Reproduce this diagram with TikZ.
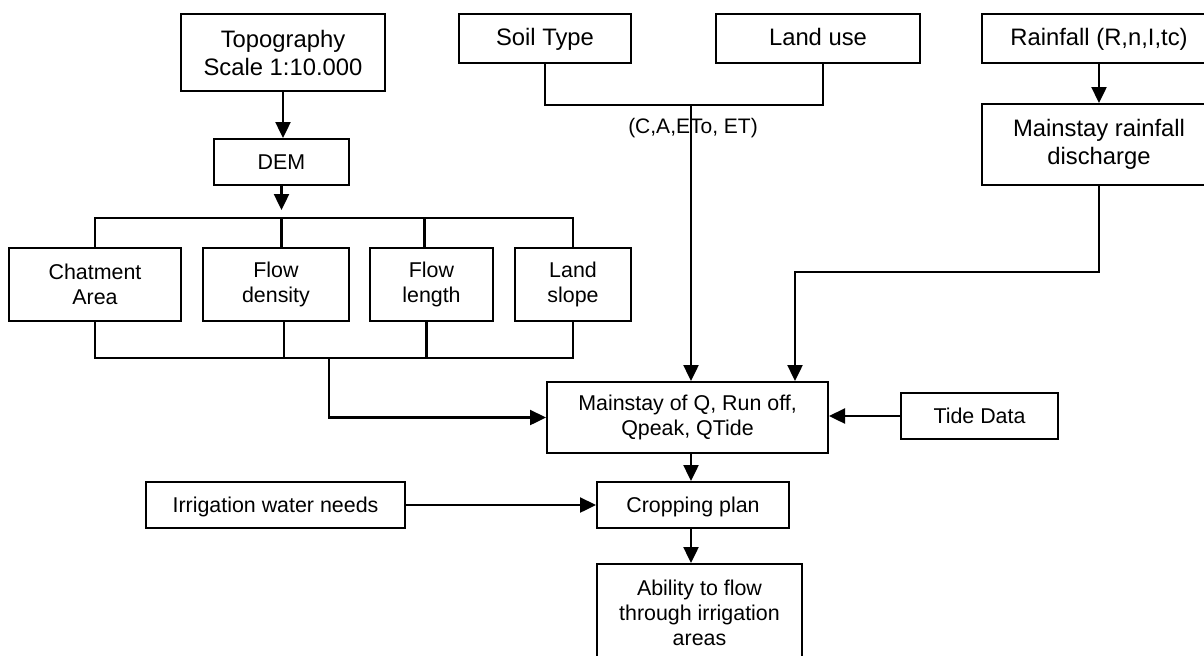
\documentclass[tikz,border=0pt]{standalone}
\usepackage{fontspec}
\setmainfont{Liberation Sans}
\usetikzlibrary{arrows.meta, calc}

\begin{document}
\begin{tikzpicture}[x=0.5pt, y=-0.5pt, line width=1.2pt, >={Triangle[width=7.5pt,length=8pt]},
    box/.style={draw, line width=1pt, align=center, inner sep=0pt, font=\fontsize{10.7}{12.5}\selectfont},
    bigbox/.style={box, font=\fontsize{11.9}{14}\selectfont},
    oneline/.style={text height=1.8ex, text depth=0.45ex}]
    \useasboundingbox (0,0) rectangle (1204,655);
    % data at the top
    \node[bigbox, minimum width=102pt, minimum height=38.5pt] (topo) at (283,52.5) {Topography\\Scale 1:10.000};
    \node[bigbox, oneline, minimum width=86pt, minimum height=24.5pt] (soil) at (545,38.5) {Soil Type};
    \node[bigbox, oneline, minimum width=102pt, minimum height=24.5pt] (landuse) at (818,38.5) {Land use};
    \node[bigbox, oneline, minimum width=117pt, minimum height=24.5pt] (rain) at (1099,38.5) {Rainfall (R,n,I,tc)};
    \node[bigbox, minimum width=117pt, minimum height=40.5pt] (rainq) at (1099,144.5) {Mainstay rainfall\\discharge};
    \node[box, oneline, minimum width=67.5pt, minimum height=23pt] (dem) at (281.5,162) {DEM};
    % DEM products
    \node[box, minimum width=86pt, minimum height=36.5pt] (catch) at (95,284.5) {Chatment\\Area};
    \node[box, minimum width=73pt, minimum height=36.5pt] (fdens) at (276,284.5) {Flow\\density};
    \node[box, minimum width=61.5pt, minimum height=36.5pt] (flen) at (431.5,284.5) {Flow\\length};
    \node[box, minimum width=58pt, minimum height=36.5pt] (slope) at (573,284.5) {Land\\slope};
    % results
    \node[box, minimum width=140.5pt, minimum height=35.5pt] (mainq) at (687.5,417.5) {Mainstay of Q, Run off,\\Qpeak, QTide};
    \node[box, oneline, minimum width=78.5pt, minimum height=23pt] (tide) at (979.5,416) {Tide Data};
    \node[box, oneline, minimum width=96pt, minimum height=23pt] (crop) at (693,505) {Cropping plan};
    \node[box, oneline, minimum width=129.5pt, minimum height=23pt] (irr) at (275.5,505) {Irrigation water needs};
    \node[box, minimum width=102.5pt, minimum height=49pt] (ability) at (699.5,613) {Ability to flow\\through irrigation\\areas};
    \node[font=\fontsize{10.5}{12}\selectfont] (soillabel) at (693,128) {(C,A,ETo, ET)};
    \coordinate (soilq) at (691,104);
    \coordinate (merge) at (329,357);

    \draw[->] (topo.south) -- (topo.south |- dem.north);
    \draw[->] (dem.south) -- ++(0,24);
    \draw (catch.north) -- ++(0,-29) -| (slope.north);
    \draw (fdens.north -| dem) -- ++(0,-29);
    \draw (flen.north) ++(-7,0) -- ++(0,-29);
    \draw (catch.south) -- ++(0,36) -| (slope.south);
    \foreach \b/\dx in {fdens/8, flen/-5}
        \draw (\b.south) ++(\dx,0) -- ++(0,36);
    \draw[->] (merge) |- (mainq.west);
    \draw (soil.south) -- ++(0,41) -| ($(landuse.south)+(5,0)$);
    \draw[->] (soilq) -- (mainq.north -| soilq);
    \draw[->] (rain) -- (rainq);
    \draw[->] (rainq.south) -- ++(0,86) -| ($(mainq.north)+(107.5,0)$);
    \draw[->] (tide.west) -- (tide.west -| mainq.east);
    \draw[->] (mainq.south -| soilq) -- (crop.north -| soilq);
    \draw[->] (irr) -- (crop);
    \draw[->] (crop.south -| soilq) -- (ability.north -| soilq);
\end{tikzpicture}
\end{document}
